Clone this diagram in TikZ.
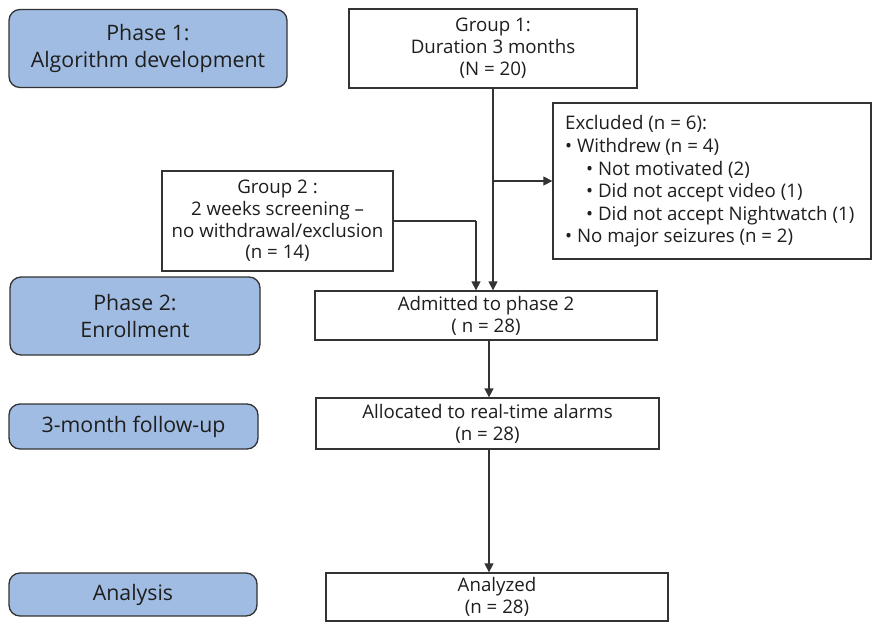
\documentclass[tikz,border=0pt]{standalone}
\usepackage{fontspec}
\setmainfont{Open Sans}
\usetikzlibrary{arrows.meta}
\definecolor{phasefill}{HTML}{A0BCE2}
\definecolor{edge}{HTML}{333333}
\definecolor{txt}{HTML}{1E1E1E}
\begin{document}
\begin{tikzpicture}[x=1pt,y=-1pt,
  phase/.style={draw=edge,line width=1.3pt,fill=phasefill,rounded corners=11pt,
     align=center,text=txt,inner sep=0pt,font=\fontsize{21.3}{26.5}\selectfont},
  box/.style={draw=edge,line width=1.3pt,fill=white,align=center,text=txt,inner sep=0pt,
     font=\fontsize{18.7}{21.8}\selectfont},
  conn/.style={draw=edge,line width=1.3pt},
  arr/.style={conn,-{Triangle[length=9pt,width=9pt]}}]
\useasboundingbox (0,0) rectangle (872,624);
% phase boxes
\node[phase,minimum width=278pt,minimum height=78pt] (p1) at (148,48.5) {Phase 1:\\Algorithm development};
\node[phase,minimum width=250pt,minimum height=78pt] (p2) at (135,316) {Phase 2:\\Enrollment};
\node[phase,minimum width=249pt,minimum height=45pt] (p3) at (133.5,426.5) {3-month follow-up};
\node[phase,minimum width=248pt,minimum height=43pt] (p4) at (133,594.5) {Analysis};
% flow boxes
\node[box,minimum width=288pt,minimum height=79pt] (g1) at (493,48.5) {Group 1:\\Duration 3 months\\(N = 20)};
\node[box,minimum width=231pt,minimum height=100pt] (g2) at (277.5,221) {Group 2 :\\2 weeks screening –\\no withdrawal/exclusion\\(n = 14)};
\node[box,minimum width=318pt,minimum height=156pt] (ex) at (712,181) {};
\node[anchor=north west,align=left,text=txt,inner sep=0pt,font=\fontsize{18.7}{22.6}\selectfont] (ext) at (565,115.5)
 {Excluded (n = 6):\\
  • Withdrew (n = 4)\\
  \hspace{21pt}• Not motivated (2)\\
  \hspace{21pt}• Did not accept video (1)\\
  \hspace{21pt}• Did not accept Nightwatch (1)\\
  • No major seizures (n = 2)};
\node[box,minimum width=342pt,minimum height=49pt] (adm) at (486,315.5) {Admitted to phase 2\\( n = 28)};
\node[box,minimum width=343pt,minimum height=51pt] (alloc) at (487.5,423.5) {Allocated to real-time alarms\\(n = 28)};
\node[box,minimum width=342pt,minimum height=48pt] (ana) at (497,597) {Analyzed\\(n = 28)};
% connectors
\coordinate (j1) at (493,181);
\coordinate (j2) at (476,221);
\coordinate (c3) at (489,0);
\draw[arr] (g1.south) -- (g1.south |- adm.north);
\draw[arr] (j1) -- (j1 -| ex.west);
\draw[conn] (g2.east) -- (j2);
\draw[arr] (j2) -- (j2 |- adm.north);
\draw[arr] (c3 |- adm.south) -- (c3 |- alloc.north);
\draw[arr] (c3 |- alloc.south) -- (c3 |- ana.north);
\end{tikzpicture}
\end{document}
